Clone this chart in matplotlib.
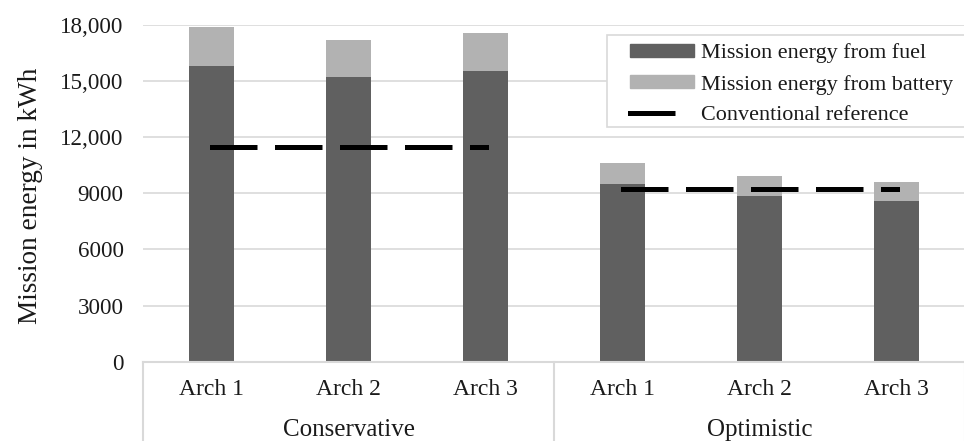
import matplotlib
matplotlib.use("Agg")
import matplotlib.pyplot as plt
import numpy as np
from matplotlib.ticker import FuncFormatter
from matplotlib.patches import Patch, Rectangle
from matplotlib.lines import Line2D

# ---- data ----
groups = ["Conservative", "Optimistic"]
archs = ["Arch 1", "Arch 2", "Arch 3"]
fuel = [15825, 15200, 15540, 9480, 8860, 8590]
battery = [2085, 2000, 2035, 1125, 1070, 1035]
reference = [11460, 11460, 11460, 9230, 9230, 9230]
yticks = [0, 3000, 6000, 9000, 12000, 15000, 18000]

plt.rcParams['font.family'] = ['Liberation Serif', 'DejaVu Serif']
TXT = '#1a1a1a'
GRID = '#d9d9d9'
DARK = '#606060'
LIGHT = '#b2b2b2'

W, H = 964, 441
fig = plt.figure(figsize=(W/100, H/100), dpi=100)
ax = fig.add_axes([143/W, 79.3/H, 822/W, 336.7/H])

x = np.arange(len(fuel))
w = 0.33
ax.bar(x, fuel, w, color=DARK, zorder=2)
ax.bar(x, battery, w, bottom=fuel, color=LIGHT, zorder=2)

lw_pt = 3.6
for g in range(2):
    idx = slice(3*g, 3*g+3)
    ax.plot(x[idx], reference[idx], color='black', lw=lw_pt,
            linestyle=(0, (8.5, 4.5)), dash_capstyle='projecting', zorder=3)

ax.set_xlim(-0.5, 5.5)
ax.set_ylim(0, 18000)
ax.set_yticks(yticks)
ax.yaxis.set_major_formatter(FuncFormatter(lambda v, p: f"{int(v):,}" if v >= 10000 else f"{int(v)}"))
ax.grid(axis='y', color=GRID, lw=1.2, zorder=0)
ax.set_axisbelow(True)
for s in ['top', 'right', 'left']:
    ax.spines[s].set_visible(False)
ax.spines['bottom'].set_color(GRID)
ax.spines['bottom'].set_linewidth(1.5)

ax.tick_params(axis='y', length=0, pad=14, labelsize=16.6, colors=TXT)
ax.set_xticks(x)
ax.set_xticklabels(archs * 2)
ax.tick_params(axis='x', length=0, pad=12.5, labelsize=17, colors=TXT)

ax.set_ylabel("Mission energy in kWh", fontsize=19.6, color=TXT)
ax.yaxis.set_label_coords((43-143)/822, 0.492)

# group labels and separators
trans = ax.get_xaxis_transform()
for g, name in enumerate(groups):
    ax.text(3*g + 1, (361.7-430)/336.7, name, transform=trans, ha='center', va='center',
            fontsize=18, color=TXT)
for xs in [-0.5, 2.5, 5.5]:
    ax.plot([xs, xs], [0, -0.25], transform=trans, color=GRID, lw=1.5, clip_on=False)

# legend frame (extends past the right edge of the image, as in the reference)
frame = Rectangle((607/W, 1-127/H), (970-607)/W, (127-35)/H, transform=fig.transFigure,
                  facecolor='white', edgecolor=GRID, lw=1.2, zorder=4)
fig.add_artist(frame)

handles = [Patch(color=DARK, label="Mission energy from fuel"),
           Patch(color=LIGHT, label="Mission energy from battery"),
           Line2D([0], [0], color='black', lw=lw_pt, linestyle=(0, (8.5, 4.5)),
                  dash_capstyle='projecting', label="Conventional reference")]
leg = fig.legend(handles=handles, loc='upper left', bbox_to_anchor=(630/W, 1-43.5/H),
                 bbox_transform=fig.transFigure, borderaxespad=0, fontsize=15.9,
                 frameon=False, handlelength=64/22.1, handleheight=0.54, handletextpad=7/22.1,
                 labelspacing=0.51, borderpad=0)
for t in leg.get_texts():
    t.set_color(TXT)
leg.set_zorder(5)

fig.savefig("out.png", dpi=100)
